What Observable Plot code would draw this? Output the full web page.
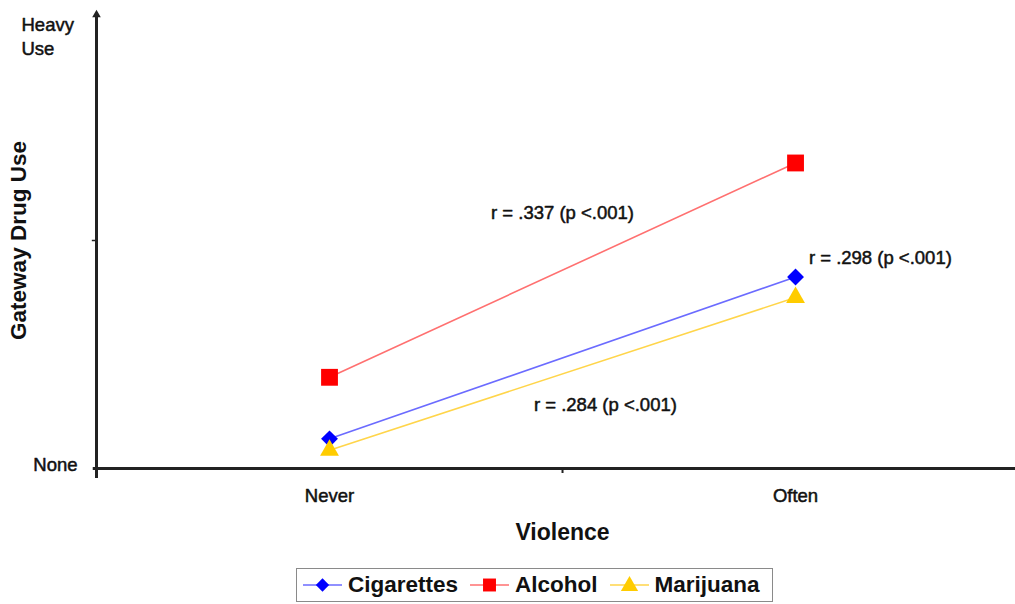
<!DOCTYPE html>
<html>
<head>
<meta charset="utf-8">
<script src="https://cdn.jsdelivr.net/npm/d3@7"></script>
<script src="https://cdn.jsdelivr.net/npm/@observablehq/plot@0.6"></script>
<style>
  body { margin: 0; background: #fff; font-family: "Liberation Sans", Arial, sans-serif; }
  #wrap { position: relative; width: 1015px; height: 604px; }
  #legend { position: absolute; left: 296px; top: 568px; width: 477px; height: 34px;
            border: 1.5px solid #8a8a8a; box-sizing: border-box; display: flex; align-items: center;
            font-weight: bold; font-size: 22.5px; color: #111; padding-left: 6px; }
  .item { display: flex; align-items: center; }
  .item svg { margin-right: 6px; }
  .item span { margin-right: 12px; }
</style>
</head>
<body>
<div id="wrap"><div id="chart"></div><div id="legend"></div></div>
<script>
// Categories and series values (arbitrary units: 0 = None, ~1.9 = Heavy Use)
const categories = ["Never", "Often"];
const categoryPos = [0.5, 1.5];
const seriesNames = ["Cigarettes", "Alcohol", "Marijuana"];
const cigarettes = [0.13, 0.84];
const alcohol = [0.40, 1.34];
const marijuana = [0.08, 0.75];
const seriesValues = [cigarettes, alcohol, marijuana];
const markerColors = ["#0000ff", "#ff0000", "#ffcc00"];
const lineColors = ["#6b6bff", "#ff7070", "#ffd54a"];
const symbols = ["diamond2", "square", "triangle"];
const symbolR = [7.6, 9.5, 7.0];
// Correlation annotations
const annoText = ["r = .337 (p <.001)", "r = .298 (p <.001)", "r = .284 (p <.001)"];
const annoX = [1.0, 1.682, 1.092];
const annoY = [1.12, 0.922, 0.277];
const yLabels = ["None", "Heavy\nUse"];
const yLabelPos = [0, 1.9];

const data = seriesNames.flatMap((s, i) =>
  categories.map((c, j) => ({series: s, x: categoryPos[j], y: seriesValues[i][j], idx: i})));

const ink = "#222";
const txt = "#111";
const font = "Liberation Sans, Arial, sans-serif";
const marks = [];
// axes
marks.push(Plot.ruleY([0], {x1: -0.007, x2: 1.972, stroke: ink, strokeWidth: 3}));
marks.push(Plot.ruleX([0], {y1: -0.044, y2: 1.985, stroke: ink, strokeWidth: 3}));
marks.push(Plot.dot([0], {x: 0, y: 1.99, symbol: "triangle", r: 3.2, fill: ink}));
marks.push(Plot.ruleY([1], {x1: -0.009, x2: 0, stroke: ink, strokeWidth: 1.5}));
marks.push(Plot.ruleX([1], {y1: -0.022, y2: 0, stroke: ink, strokeWidth: 2}));
// series
seriesNames.forEach((s, i) => {
  const d = data.filter(r => r.idx === i);
  marks.push(Plot.line(d, {x: "x", y: "y", stroke: lineColors[i], strokeWidth: 1.6}));
});
seriesNames.forEach((s, i) => {
  const d = data.filter(r => r.idx === i);
  marks.push(Plot.dot(d, {x: "x", y: "y", symbol: symbols[i], r: symbolR[i], fill: markerColors[i], stroke: "none"}));
});
const common = {fontSize: 18.5, fill: txt, stroke: txt, strokeWidth: 0.5, fontFamily: font};
// annotations
marks.push(Plot.text(annoText, {x: (d, i) => annoX[i], y: (d, i) => annoY[i], text: d => d, ...common}));
// tick labels
marks.push(Plot.text(categories, {x: (d, i) => categoryPos[i], y: 0, dy: 28, text: d => d, ...common}));
marks.push(Plot.text([yLabels[0]], {x: 0, y: yLabelPos[0], dx: -19, dy: -3, text: d => d, textAnchor: "end", ...common}));
marks.push(Plot.text([yLabels[1]], {x: 0, y: yLabelPos[1], dx: -75, text: d => d, textAnchor: "start",
  lineHeight: 1.28, ...common}));
// axis titles
marks.push(Plot.text(["Violence"], {x: 1, y: 0, dy: 64, text: d => d, fontSize: 23, fontWeight: "bold",
  fill: txt, fontFamily: font}));
marks.push(Plot.text(["Gateway Drug Use"], {x: 0, y: 1.0, dx: -78, rotate: -90, text: d => d, fontSize: 22.5,
  fontWeight: "bold", fill: txt, fontFamily: font}));

const chart = Plot.plot({
  width: 1015,
  height: 560,
  marginLeft: 96,
  marginRight: 0,
  marginTop: 12,
  marginBottom: 92,
  x: {domain: [0, 1.972], axis: null},
  y: {domain: [0, 2], axis: null},
  style: {background: "#fff", overflow: "visible"},
  marks
});
document.getElementById("chart").appendChild(chart);

// legend
const legend = document.getElementById("legend");
const legendSym = [d3.symbolDiamond2, d3.symbolSquare, d3.symbolTriangle];
const legendR = [6.0, 7.3, 6.4];
seriesNames.forEach((s, i) => {
  const item = document.createElement("div");
  item.className = "item";
  const sym = d3.symbol(legendSym[i], Math.PI * legendR[i] ** 2)();
  item.innerHTML = `<svg width="39" height="22"><line x1="0" x2="39" y1="11" y2="11" stroke="${lineColors[i]}" stroke-width="1.6"/>` +
    `<path d="${sym}" transform="translate(19.5,${i === 2 ? 12 : 11})" fill="${markerColors[i]}"/></svg><span>${s}</span>`;
  legend.appendChild(item);
});
</script>
</body>
</html>
